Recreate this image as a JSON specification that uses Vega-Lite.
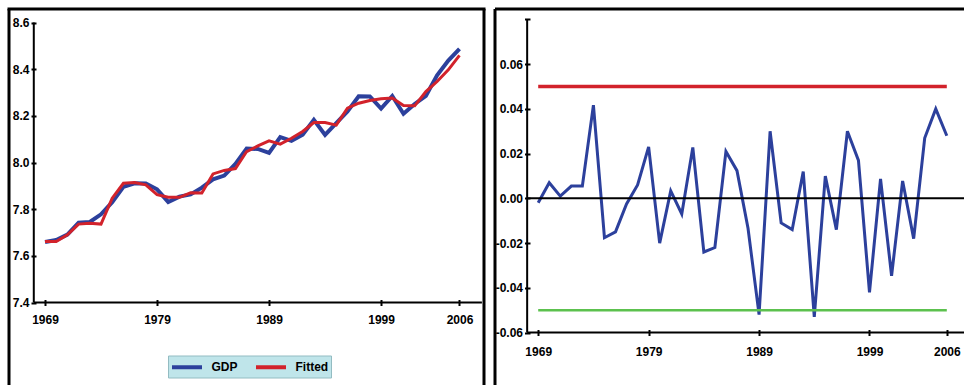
{
  "$schema": "https://vega.github.io/schema/vega-lite/v6.json",
  "background": "white",
  "padding": {"left": 6, "top": 6, "right": 0, "bottom": 0},
  "spacing": 6,
  "datasets": {
    "main": [
      {"year": 1969, "GDP": 7.659, "Fitted": 7.661, "Resid": -0.002},
      {"year": 1970, "GDP": 7.668, "Fitted": 7.661, "Resid": 0.007},
      {"year": 1971, "GDP": 7.691, "Fitted": 7.690, "Resid": 0.001},
      {"year": 1972, "GDP": 7.742, "Fitted": 7.736, "Resid": 0.0055},
      {"year": 1973, "GDP": 7.745, "Fitted": 7.740, "Resid": 0.0055},
      {"year": 1974, "GDP": 7.778, "Fitted": 7.736, "Resid": 0.0417},
      {"year": 1975, "GDP": 7.830, "Fitted": 7.847, "Resid": -0.0176},
      {"year": 1976, "GDP": 7.896, "Fitted": 7.911, "Resid": -0.015},
      {"year": 1977, "GDP": 7.911, "Fitted": 7.914, "Resid": -0.0025},
      {"year": 1978, "GDP": 7.910, "Fitted": 7.904, "Resid": 0.006},
      {"year": 1979, "GDP": 7.885, "Fitted": 7.862, "Resid": 0.023},
      {"year": 1980, "GDP": 7.831, "Fitted": 7.851, "Resid": -0.020},
      {"year": 1981, "GDP": 7.854, "Fitted": 7.851, "Resid": 0.0033},
      {"year": 1982, "GDP": 7.863, "Fitted": 7.870, "Resid": -0.007},
      {"year": 1983, "GDP": 7.892, "Fitted": 7.869, "Resid": 0.0228},
      {"year": 1984, "GDP": 7.928, "Fitted": 7.951, "Resid": -0.024},
      {"year": 1985, "GDP": 7.944, "Fitted": 7.966, "Resid": -0.022},
      {"year": 1986, "GDP": 7.994, "Fitted": 7.974, "Resid": 0.021},
      {"year": 1987, "GDP": 8.060, "Fitted": 8.047, "Resid": 0.0124},
      {"year": 1988, "GDP": 8.058, "Fitted": 8.071, "Resid": -0.0134},
      {"year": 1989, "GDP": 8.041, "Fitted": 8.093, "Resid": -0.052},
      {"year": 1990, "GDP": 8.109, "Fitted": 8.079, "Resid": 0.030},
      {"year": 1991, "GDP": 8.093, "Fitted": 8.104, "Resid": -0.011},
      {"year": 1992, "GDP": 8.119, "Fitted": 8.133, "Resid": -0.014},
      {"year": 1993, "GDP": 8.183, "Fitted": 8.171, "Resid": 0.012},
      {"year": 1994, "GDP": 8.118, "Fitted": 8.171, "Resid": -0.053},
      {"year": 1995, "GDP": 8.169, "Fitted": 8.160, "Resid": 0.010},
      {"year": 1996, "GDP": 8.219, "Fitted": 8.233, "Resid": -0.014},
      {"year": 1997, "GDP": 8.284, "Fitted": 8.254, "Resid": 0.030},
      {"year": 1998, "GDP": 8.283, "Fitted": 8.266, "Resid": 0.017},
      {"year": 1999, "GDP": 8.231, "Fitted": 8.273, "Resid": -0.042},
      {"year": 2000, "GDP": 8.285, "Fitted": 8.276, "Resid": 0.0087},
      {"year": 2001, "GDP": 8.209, "Fitted": 8.244, "Resid": -0.0346},
      {"year": 2002, "GDP": 8.251, "Fitted": 8.243, "Resid": 0.0078},
      {"year": 2003, "GDP": 8.286, "Fitted": 8.304, "Resid": -0.018},
      {"year": 2004, "GDP": 8.374, "Fitted": 8.347, "Resid": 0.027},
      {"year": 2005, "GDP": 8.437, "Fitted": 8.397, "Resid": 0.040},
      {"year": 2006, "GDP": 8.487, "Fitted": 8.459, "Resid": 0.028}
    ]
  },
  "hconcat": [
    {
      "width": 475,
      "height": 377.5,
      "layer": [
        {
          "data": {"name": "main"},
          "mark": {"type": "line", "strokeWidth": 4},
          "encoding": {
            "x": {
              "field": "year", "type": "quantitative",
              "scale": {"domain": [1965.787, 2008.187], "nice": false, "zero": false},
              "axis": {
                "title": null, "domain": false, "grid": false,
                "values": [1969, 1979, 1989, 1999, 2006], "format": "d",
                "offset": -87, "tickSize": 6, "labelPadding": 9
              }
            },
            "y": {
              "field": "GDP", "type": "quantitative",
              "scale": {"domain": [7.04, 8.6579], "nice": false, "zero": false},
              "axis": {
                "title": null, "domain": false, "grid": false,
                "values": [7.4, 7.5, 7.6, 7.7, 7.8, 7.9, 8.0, 8.1, 8.2, 8.3, 8.4, 8.5, 8.6],
                "labelExpr": "round(datum.value*10)%2==0 ? format(datum.value,'.1f') : ''",
                "offset": -27, "tickSize": 5, "labelPadding": 2
              }
            },
            "color": {
              "datum": "GDP",
              "scale": {"domain": ["GDP", "Fitted"], "range": ["#2c409c", "#d2222b"]},
              "legend": {
                "title": null, "orient": "none", "direction": "horizontal",
                "legendX": 159, "legendY": 346.5,
                "fillColor": "#bfe5ea", "strokeColor": "#93bcc2", "padding": 2,
                "symbolType": "M-2,0H2", "symbolSize": 225, "symbolStrokeWidth": 4,
                "symbolOffset": 7.5,
                "labelFont": "Liberation Sans, Arial, sans-serif",
                "labelFontSize": 12, "labelFontWeight": "bold", "labelColor": "black",
                "labelOffset": 15, "columnPadding": 10
              }
            }
          }
        },
        {
          "data": {"name": "main"},
          "mark": {"type": "line", "strokeWidth": 3},
          "encoding": {
            "x": {"field": "year", "type": "quantitative"},
            "y": {"field": "Fitted", "type": "quantitative"},
            "color": {"datum": "Fitted"}
          }
        },
        {
          "data": {"values": [{}]},
          "mark": {"type": "rule", "color": "black", "strokeWidth": 3},
          "encoding": {"x": {"datum": 1965.787, "type": "quantitative"}}
        },
        {
          "data": {"values": [{}]},
          "mark": {"type": "rule", "color": "black", "strokeWidth": 3},
          "encoding": {"x": {"datum": 2008.187, "type": "quantitative"}}
        },
        {
          "data": {"values": [{}]},
          "mark": {"type": "rule", "color": "black", "strokeWidth": 3, "strokeCap": "square"},
          "encoding": {"y": {"datum": 8.6579, "type": "quantitative"}}
        },
        {
          "data": {"values": [{}]},
          "mark": {"type": "rule", "color": "black", "strokeWidth": 2},
          "encoding": {
            "x": {"datum": 1968, "type": "quantitative"},
            "y": {"datum": 7.4, "type": "quantitative"},
            "y2": {"datum": 8.6}
          }
        },
        {
          "data": {"values": [{}]},
          "mark": {"type": "rule", "color": "black", "strokeWidth": 2},
          "encoding": {
            "y": {"datum": 7.4, "type": "quantitative"},
            "x": {"datum": 1968, "type": "quantitative"},
            "x2": {"datum": 2008}
          }
        }
      ]
    },
    {
      "width": 469.5,
      "height": 377.5,
      "layer": [
        {
          "data": {"name": "main"},
          "mark": {"type": "line", "strokeWidth": 3, "color": "#2c409c"},
          "encoding": {
            "x": {
              "field": "year", "type": "quantitative",
              "scale": {"domain": [1965.088, 2007.603], "nice": false, "zero": false},
              "axis": {
                "title": null, "domain": false, "grid": false,
                "values": [1969, 1979, 1989, 1999, 2006], "format": "d",
                "offset": -57, "tickSize": 6, "labelPadding": 11
              }
            },
            "y": {
              "field": "Resid", "type": "quantitative",
              "scale": {"domain": [-0.08415, 0.08469], "nice": false, "zero": false},
              "axis": {
                "title": null, "domain": false, "grid": false,
                "values": [-0.06, -0.05, -0.04, -0.03, -0.02, -0.01, 0, 0.01, 0.02, 0.03, 0.04, 0.05, 0.06, 0.07, 0.08],
                "labelExpr": "(round(datum.value*100)%2==0 && datum.value<0.075) ? (datum.value<0 ? '-' + format(-datum.value,'.2f') : format(datum.value,'.2f')) : ''",
                "offset": -35, "tickSize": 5.5, "labelPadding": 2
              }
            }
          }
        },
        {
          "data": {"values": [{}]},
          "mark": {"type": "rule", "color": "black", "strokeWidth": 3},
          "encoding": {"x": {"datum": 1965.088, "type": "quantitative"}}
        },
        {
          "data": {"values": [{}]},
          "mark": {"type": "rule", "color": "black", "strokeWidth": 3},
          "encoding": {"y": {"datum": 0.08469, "type": "quantitative"}}
        },
        {
          "data": {"values": [{}]},
          "mark": {"type": "rule", "color": "black", "strokeWidth": 2},
          "encoding": {
            "x": {"datum": 1968, "type": "quantitative"},
            "y": {"datum": -0.06, "type": "quantitative"},
            "y2": {"datum": 0.08}
          }
        },
        {
          "data": {"values": [{}]},
          "mark": {"type": "rule", "color": "black", "strokeWidth": 2},
          "encoding": {
            "y": {"datum": -0.06, "type": "quantitative"},
            "x": {"datum": 1968, "type": "quantitative"},
            "x2": {"datum": 2007.603}
          }
        },
        {
          "data": {"values": [{}]},
          "mark": {"type": "rule", "color": "black", "strokeWidth": 2},
          "encoding": {
            "y": {"datum": 0, "type": "quantitative"},
            "x": {"datum": 1968, "type": "quantitative"},
            "x2": {"datum": 2007.603}
          }
        },
        {
          "data": {"values": [{}]},
          "mark": {"type": "rule", "color": "#d2222b", "strokeWidth": 3.5},
          "encoding": {
            "y": {"datum": 0.05, "type": "quantitative"},
            "x": {"datum": 1969, "type": "quantitative"},
            "x2": {"datum": 2006}
          }
        },
        {
          "data": {"values": [{}]},
          "mark": {"type": "rule", "color": "#5cc14e", "strokeWidth": 2.5},
          "encoding": {
            "y": {"datum": -0.05, "type": "quantitative"},
            "x": {"datum": 1969, "type": "quantitative"},
            "x2": {"datum": 2006}
          }
        }
      ]
    }
  ],
  "config": {
    "view": {"stroke": null},
    "axis": {
      "labelFont": "Liberation Sans, Arial, sans-serif",
      "labelFontSize": 12,
      "labelFontWeight": "bold",
      "labelColor": "black",
      "tickColor": "black",
      "tickWidth": 2,
      "minExtent": 0,
      "labelFlush": false,
      "labelOverlap": false,
      "labelBound": false
    }
  }
}
